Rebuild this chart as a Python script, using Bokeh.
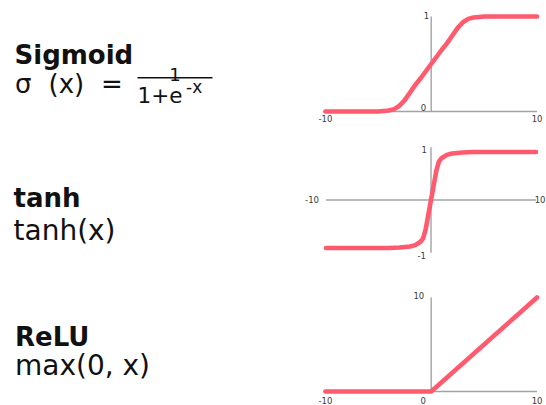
from bokeh.plotting import figure
from bokeh.models import Range1d
from bokeh.core.properties import value
from bokeh.embed import file_html
from bokeh.resources import INLINE

# ---------------- data ----------------
SIG_X = [-10, -5, -4, -3.5, -3, -2.5, -2, -1.5, -1, 0, 1, 1.5, 2, 2.5, 3, 3.5, 4, 5, 10]
SIG_Y = [0, 0, 0.01, 0.025, 0.06, 0.12, 0.2, 0.28, 0.35, 0.5, 0.65, 0.72, 0.8, 0.88, 0.94, 0.975, 0.99, 1, 1]

TANH_X = [-10, -4, -3, -2, -1.5, -1, -0.75, -0.5, -0.25, 0, 0.25, 0.5, 0.75, 1, 1.5, 2, 3, 4, 10]
TANH_Y = [-1, -1, -0.99, -0.97, -0.94, -0.87, -0.8, -0.6, -0.3, 0, 0.3, 0.6, 0.8, 0.87, 0.94, 0.97, 0.99, 1, 1]

RELU_X = [-10, 0, 10]
RELU_Y = [0, 0, 10]

SIG_XTICKS = [-10, 10]
SIG_YTICKS = [0, 1]
TANH_XTICKS = [-10, 10]
TANH_YTICKS = [-1, 1]
RELU_XTICKS = [-10, 0, 10]
RELU_YTICKS = [10]

TITLES = ["Sigmoid", "tanh", "ReLU"]
FORMULAS = ["tanh(x)", "max(0, x)"]

# ---------------- styling / layout ----------------
CURVE = "#ff5a6e"
AXIS = "#a3a3a3"
TXT = "#111111"
TICK = "#3a3a3a"
FONT = "DejaVu Sans"

W, H = 546, 405
L, R, T, B = 0, W, 0, H   # picture pixel frame

p = figure(width=W, height=H, x_range=Range1d(L, R), y_range=Range1d(B, T),
           toolbar_location=None, output_backend="svg", min_border=0,
           x_axis_location=None, y_axis_location=None, outline_line_color=None)
p.grid.visible = False
p.background_fill_color = "white"
p.border_fill_color = "white"


def add_panel(name, ox, oy, sx, sy):
    p.extra_x_ranges[name] = Range1d((L - ox) / sx, (R - ox) / sx)
    p.extra_y_ranges[name] = Range1d((oy - B) / sy, (oy - T) / sy)


add_panel("sig", 430.7, 111.0, 10.585, 95.0)
add_panel("tanh", 430.5, 199.5, 10.5, 48.0)
add_panel("relu", 430.7, 391.0, 10.585, 9.4)

AX_KW = dict(line_color=AXIS, line_width=1.4)
LINE_KW = dict(line_color=CURVE, line_width=4.6, line_join="round", line_cap="round")
TICK_KW = dict(text_font=value(FONT), text_font_size="8.5px", text_color=TICK)

# ---- sigmoid panel ----
rn = dict(x_range_name="sig", y_range_name="sig")
p.segment(x0=[SIG_XTICKS[0]], y0=[0], x1=[SIG_XTICKS[-1]], y1=[0], **AX_KW, **rn)
p.segment(x0=[0], y0=[SIG_YTICKS[0]], x1=[0], y1=[SIG_YTICKS[-1]], **AX_KW, **rn)
p.line(SIG_X, SIG_Y, **LINE_KW, **rn)
p.text(x=SIG_XTICKS, y=[0] * len(SIG_XTICKS), text=[str(v) for v in SIG_XTICKS],
       text_align="center", text_baseline="middle", y_offset=7, **TICK_KW, **rn)
p.text(x=[0], y=[SIG_YTICKS[0]], text=[str(SIG_YTICKS[0])], text_align="right",
       text_baseline="middle", x_offset=-5, y_offset=-4, **TICK_KW, **rn)
p.text(x=[0], y=[SIG_YTICKS[1]], text=[str(SIG_YTICKS[1])], text_align="right",
       text_baseline="middle", x_offset=-2, y_offset=-1, **TICK_KW, **rn)

# ---- tanh panel ----
rn = dict(x_range_name="tanh", y_range_name="tanh")
p.segment(x0=[TANH_XTICKS[0]], y0=[0], x1=[TANH_XTICKS[-1]], y1=[0], **AX_KW, **rn)
p.segment(x0=[0], y0=[-1.1], x1=[0], y1=[1.1], **AX_KW, **rn)
p.line(TANH_X, TANH_Y, **LINE_KW, **rn)
p.text(x=[TANH_XTICKS[0]], y=[0], text=[str(TANH_XTICKS[0])], text_align="right",
       text_baseline="middle", x_offset=-7, y_offset=-1, **TICK_KW, **rn)
p.text(x=[TANH_XTICKS[-1]], y=[0], text=[str(TANH_XTICKS[-1])], text_align="right",
       text_baseline="middle", x_offset=9.5, y_offset=-1, **TICK_KW, **rn)
p.text(x=[0], y=[TANH_YTICKS[1]], text=[str(TANH_YTICKS[1])], text_align="right",
       text_baseline="middle", x_offset=-4, y_offset=-3, **TICK_KW, **rn)
p.text(x=[0], y=[TANH_YTICKS[0]], text=[str(TANH_YTICKS[0])], text_align="right",
       text_baseline="middle", x_offset=-5, y_offset=7, **TICK_KW, **rn)

# ---- relu panel ----
rn = dict(x_range_name="relu", y_range_name="relu")
p.segment(x0=[RELU_XTICKS[0]], y0=[0], x1=[RELU_XTICKS[-1]], y1=[0], **AX_KW, **rn)
p.segment(x0=[0], y0=[0], x1=[0], y1=[RELU_YTICKS[-1]], **AX_KW, **rn)
p.line(RELU_X, RELU_Y, **LINE_KW, **rn)
outer = [v for v in RELU_XTICKS if v != 0]
p.text(x=outer, y=[0] * len(outer), text=[str(v) for v in outer],
       text_align="center", text_baseline="middle", y_offset=9, **TICK_KW, **rn)
p.text(x=[0], y=[0], text=["0"], text_align="center", text_baseline="middle",
       x_offset=-8, y_offset=9, **TICK_KW, **rn)
p.text(x=[0], y=[RELU_YTICKS[0]], text=[str(RELU_YTICKS[0])], text_align="right",
       text_baseline="middle", x_offset=-7, y_offset=-2, **TICK_KW, **rn)

# ---- left-hand labels (picture pixel coordinates) ----
p.text(x=[14, 13, 14.5], y=[54, 197.5, 336.5], text=TITLES, text_font=value(FONT),
       text_font_style="bold", text_font_size="26px", text_color=TXT,
       text_baseline="alphabetic")
p.text(x=[13, 14.5], y=[230, 365], text=FORMULAS, text_font=value(FONT),
       text_font_size="28px", text_color=TXT, text_baseline="alphabetic")

# sigmoid formula
p.text(x=[14.5, 48], y=[83.5, 83.5], text=["σ", "(x)"], text_font=value(FONT),
       text_font_size="26px", text_color=TXT, text_baseline="alphabetic")
p.text(x=[111.5], y=[83.5], text=["="], text_font=value(FONT), text_font_size="26px",
       text_color=TXT, text_baseline="alphabetic", text_align="center")
p.text(x=[174.5], y=[73.5], text=["1"], text_font=value(FONT), text_font_size="18px",
       text_color=TXT, text_baseline="alphabetic", text_align="center")
p.segment(x0=[137], y0=[77.3], x1=[212], y1=[77.3], line_color=TXT, line_width=1.5)
p.text(x=[137], y=[94], text=["1+e"], text_font=value(FONT), text_font_size="21.5px",
       text_color=TXT, text_baseline="alphabetic")
p.text(x=[185.5], y=[86], text=["-x"], text_font=value(FONT), text_font_size="17px",
       text_color=TXT, text_baseline="alphabetic")

open("out.html", "w").write(file_html(p, INLINE))
